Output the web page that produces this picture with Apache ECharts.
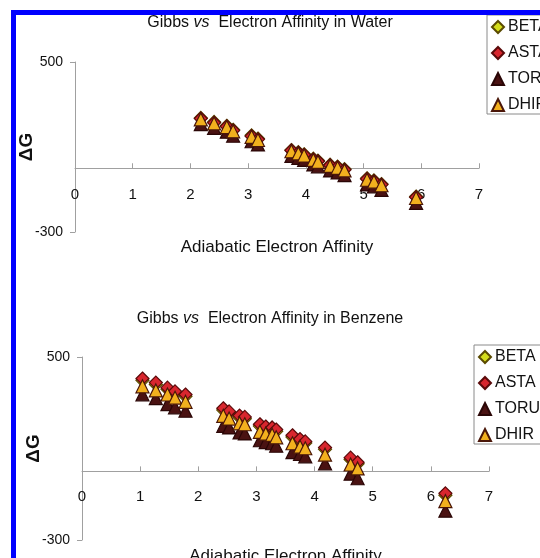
<!DOCTYPE html>
<html>
<head>
<meta charset="utf-8">
<script src="https://cdn.jsdelivr.net/npm/echarts@6/dist/echarts.min.js"></script>
<style>
html,body{margin:0;padding:0;background:#fff;}
#c{width:540px;height:558px;}
</style>
</head>
<body>
<div id="c"></div>
<script>
// ---- Data: Water ----
const xWater = [2.18,2.41,2.63,2.74,3.06,3.17,3.75,3.87,3.97,4.13,4.21,4.42,4.55,4.67,5.06,5.18,5.31,5.91];
const betaWater = [237,218,200,181,155,140,86,76,66,45,36,17,8,-4,-47,-57,-74,-133];
const astaWater = [234,214,197,178,151,136,84,73,63,42,33,14,5,-7,-50,-60,-77,-136];
const toruWater = [208,190,172,153,127,112,58,49,39,18,9,-10,-20,-32,-76,-85,-102,-163];
const dhirWater = [230,211,194,174,148,133,80,70,60,39,30,11,2,-10,-54,-63,-80,-140];

// ---- Data: Benzene ----
const xBenzene = [1.04,1.27,1.47,1.60,1.78,2.43,2.53,2.71,2.80,3.06,3.16,3.27,3.34,3.62,3.75,3.84,4.18,4.62,4.74,6.25];
const betaBenzene = [398,380,359,343,328,268,255,236,230,198,189,184,175,150,133,124,97,52,33,-104];
const astaBenzene = [406,388,366,350,336,276,262,244,238,206,196,192,183,158,141,131,104,60,40,-96];
const toruBenzene = [337,320,294,280,265,199,192,170,166,136,128,123,112,84,76,66,35,-10,-30,-172];
const dhirBenzene = [372,354,336,322,304,243,231,210,206,173,165,160,149,123,108,101,73,30,13,-130];

const seriesNames = ['BETA','ASTA','TORU','DHIR'];
const xTicks = [0,1,2,3,4,5,6,7];
const yRange = [-300, 500];

const FONT = "'Liberation Sans', Arial, sans-serif";
const TXT = '#111111';
const AX = '#a0a0a0';
const styles = {
  BETA: {symbol:'diamond', color:'#d4dd1a', border:'#5a4a00'},
  ASTA: {symbol:'diamond', color:'#d8262e', border:'#5a0a0a'},
  TORU: {symbol:'triangle', color:'#4a1212', border:'#2a0606'},
  DHIR: {symbol:'triangle', color:'#f2b01e', border:'#4a1608'}
};

const H = 558;
const grids = [
  {left:75, right:61, top:62, bottom:326, outerBoundsMode:'none', containLabel:false},
  {left:82, right:51, top:357, bottom:18, outerBoundsMode:'none', containLabel:false}
];
// offset that places the x axis (line + labels) at y = 0 of the value axis
function zeroOffset(g){
  const gh = H - g.top - g.bottom;
  return -gh * (0 - yRange[0]) / (yRange[1] - yRange[0]);
}

function pairs(xs, ys){ return xs.map((x,i)=>[x, ys[i]]); }

function mkSeries(name, xs, ys, idx){
  const s = styles[name];
  return {
    name: name, type:'scatter', xAxisIndex: idx, yAxisIndex: idx,
    symbol: s.symbol, symbolSize: 13,
    itemStyle:{color:s.color, borderColor:s.border, borderWidth:1.2, opacity:1},
    emphasis:{disabled:true},
    data: pairs(xs, ys)
  };
}

function mkX(idx, gap, margin){
  return {
    gridIndex: idx, type:'value', min: xTicks[0], max: xTicks[xTicks.length-1], interval:1,
    offset: zeroOffset(grids[idx]),
    axisLine:{show:true, onZero:false, lineStyle:{color:AX, width:1}},
    axisTick:{show:true, inside:true, length:5, lineStyle:{color:AX}},
    axisLabel:{color:TXT, fontSize:15, fontFamily:FONT, margin: margin},
    splitLine:{show:false},
    name:'Adiabatic Electron Affinity', nameLocation:'middle', nameGap: gap,
    nameMoveOverlap:false,
    nameTextStyle:{color:TXT, fontSize:17, fontFamily:FONT, verticalAlign:'top'}
  };
}
function mkY(idx){
  return {
    gridIndex: idx, type:'value', min: yRange[0], max: yRange[1], interval: yRange[1]-yRange[0],
    axisLine:{show:true, onZero:false, lineStyle:{color:AX, width:1}},
    axisTick:{show:true, inside:false, length:5, lineStyle:{color:AX}},
    axisLabel:{color:TXT, fontSize:14, fontFamily:FONT, margin:12},
    splitLine:{show:false},
    name:'ΔG', nameLocation:'middle', nameRotate:90, nameGap: 39,
    nameMoveOverlap:false,
    nameTextStyle:{color:TXT, fontSize:19, fontWeight:'bold', fontFamily:FONT}
  };
}

function mkLegend(left, top){
  return {
    left:left, top:top, orient:'vertical', itemGap:10, itemWidth:12, itemHeight:12,
    padding:[4,5,1,4], borderColor:'#8a8a8a', borderWidth:1, backgroundColor:'#fff',
    selectedMode:false,
    textStyle:{color:TXT, fontSize:16, fontFamily:FONT, lineHeight:16, padding:[0,0,0,-1]},
    data: seriesNames
  };
}

function mkTitle(main, top){
  const base = {fontSize:16, fontFamily:FONT, color:TXT, fontWeight:'normal'};
  return {
    left:'center', top: top, padding:[0,0,0,14],
    text: '{a|Gibbs }{i|vs}{a|  Electron Affinity in ' + main + '}',
    textStyle:Object.assign({}, base, {
      rich:{a:Object.assign({}, base), i:Object.assign({}, base, {fontStyle:'italic'})}})
  };
}

const chart = echarts.init(document.getElementById('c'), null, {renderer:'canvas'});
chart.setOption({
  animation:false,
  backgroundColor:'#ffffff',
  title:[ mkTitle('Water', 15), mkTitle('Benzene', 311) ],
  legend:[ mkLegend(487, 15), mkLegend(474, 345) ],
  grid: grids,
  xAxis:[ mkX(0, 71, 19), mkX(1, 76, 18) ],
  yAxis:[ mkY(0), mkY(1) ],
  series:[
    mkSeries('BETA', xWater, betaWater, 0),
    mkSeries('ASTA', xWater, astaWater, 0),
    mkSeries('TORU', xWater, toruWater, 0),
    mkSeries('DHIR', xWater, dhirWater, 0),
    mkSeries('BETA', xBenzene, betaBenzene, 1),
    mkSeries('ASTA', xBenzene, astaBenzene, 1),
    mkSeries('TORU', xBenzene, toruBenzene, 1),
    mkSeries('DHIR', xBenzene, dhirBenzene, 1)
  ],
  graphic:[
    {type:'rect', z:100, shape:{x:11, y:10, width:529, height:5}, style:{fill:'#0000ff'}},
    {type:'rect', z:100, shape:{x:11, y:10, width:5, height:548}, style:{fill:'#0000ff'}}
  ]
});
</script>
</body>
</html>
